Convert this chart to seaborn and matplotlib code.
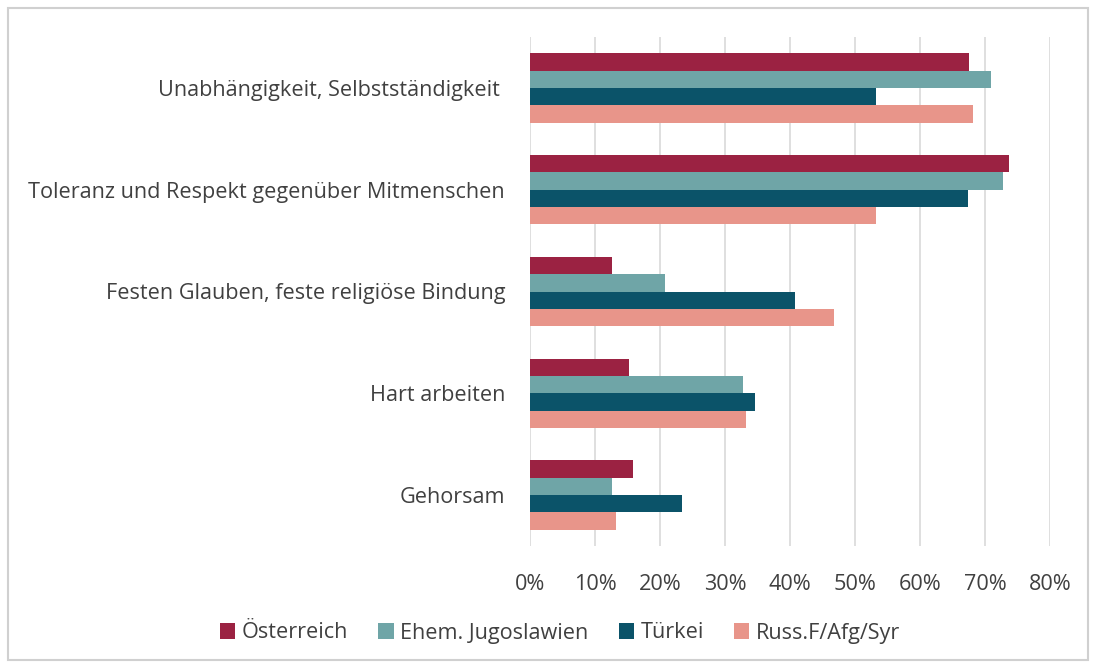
import pandas as pd
import seaborn as sns
import matplotlib.pyplot as plt
from matplotlib.patches import Rectangle
from matplotlib.ticker import PercentFormatter

# data
categories = ["Unabhängigkeit, Selbstständigkeit ",
              "Toleranz und Respekt gegenüber Mitmenschen",
              "Festen Glauben, feste religiöse Bindung",
              "Hart arbeiten",
              "Gehorsam"]
groups = ["Österreich", "Ehem. Jugoslawien", "Türkei", "Russ.F/Afg/Syr"]
oesterreich = [67.5, 73.7, 12.6, 15.3, 15.9]
jugoslawien = [70.9, 72.7, 20.8, 32.7, 12.6]
tuerkei = [53.3, 67.4, 40.8, 34.6, 23.4]
russ_afg_syr = [68.2, 53.3, 46.7, 33.3, 13.3]
colors = ["#9b2242", "#6fa5a7", "#0b5369", "#e8958a"]

values = [oesterreich, jugoslawien, tuerkei, russ_afg_syr]
rows = []
for g, vals in zip(groups, values):
    for c, v in zip(categories, vals):
        rows.append({"Kategorie": c, "Gruppe": g, "Wert": v})
df = pd.DataFrame(rows)

sns.set_style("white")
plt.rcParams["font.family"] = ["Open Sans", "DejaVu Sans"]
text_col = "#404040"
fs = 15.6

fig = plt.figure(figsize=(10.94, 6.65), dpi=100)
ax = fig.add_axes([530 / 1094, 1 - 546 / 665, 520 / 1094, 509 / 665])

sns.barplot(data=df, y="Kategorie", x="Wert", hue="Gruppe",
            order=categories, hue_order=groups, palette=colors,
            width=0.68, saturation=1, orient="h", ax=ax, legend=True,
            linewidth=0)

ax.set_xlim(0, 80)
ax.set_ylim(4.5, -0.5)
ax.set_xticks(range(0, 81, 10))
ax.xaxis.set_major_formatter(PercentFormatter(decimals=0))
ax.grid(axis="x", color="#d9d9d9", linewidth=1.2)
ax.set_axisbelow(True)
for s in ax.spines.values():
    s.set_visible(False)
ax.set_xlabel("")
ax.set_ylabel("")
ax.tick_params(axis="x", length=0, pad=20, labelsize=fs, labelcolor=text_col)
ax.tick_params(axis="y", length=0, pad=18, labelsize=fs, labelcolor=text_col)

handles, labels = ax.get_legend_handles_labels()
ax.get_legend().remove()
fig.legend(handles, labels, loc="center", bbox_to_anchor=(560 / 1094, 1 - 633 / 665),
           ncol=4, frameon=False, fontsize=fs, labelcolor=text_col,
           handlelength=0.7, handleheight=0.7, handletextpad=0.3, columnspacing=1.4)

# light outer frame like the source image
fig.patches.append(Rectangle((8 / 1094, 5 / 665), 1080 / 1094, 652 / 665,
                             transform=fig.transFigure, fill=False,
                             edgecolor="#d0d0d0", linewidth=1.5))

fig.savefig("out.png", dpi=100)
